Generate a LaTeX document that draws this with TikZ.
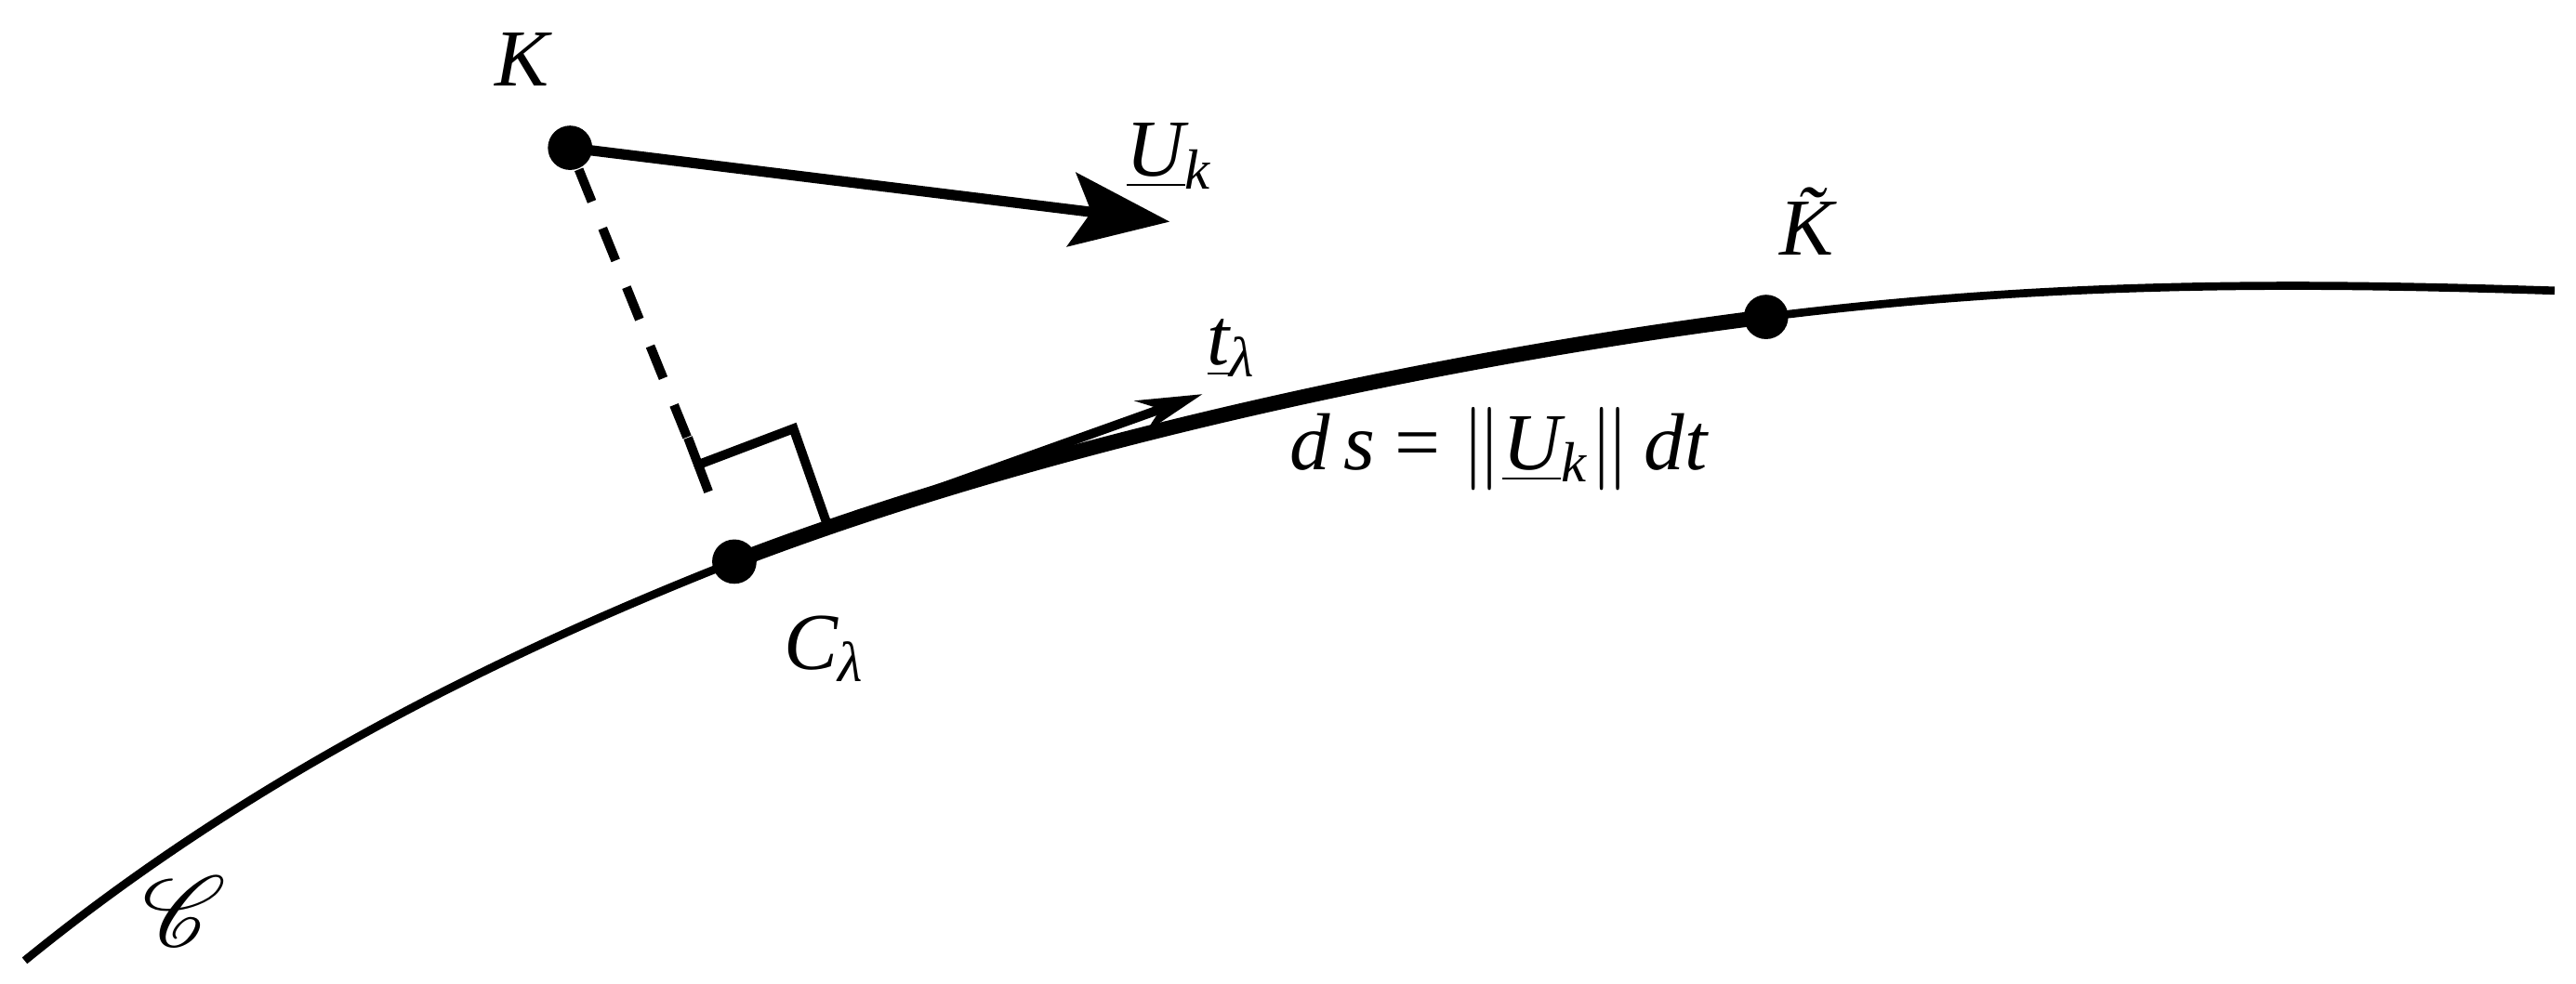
\documentclass[tikz,border=0pt]{standalone}
\usepackage{fontspec}
\usepackage{mathrsfs}
\setmainfont{Liberation Serif}
\usetikzlibrary{arrows.meta,calc}
\begin{document}
\begin{tikzpicture}[x=0.01cm,y=-0.01cm,
  lbl/.style={font=\fontsize{14}{16}\selectfont\itshape, inner sep=0pt},
  dot/.style={circle, fill=black, minimum size=0.27cm, inner sep=0pt}]
\useasboundingbox (0,0) rectangle (1568,599);
\node[dot] (K) at (347,90) {};
\node[dot] (C) at (447,342) {};
\node[dot] (Kt) at (1075,193) {};
\coordinate (S) at (15,585);
\coordinate (E) at (1555,177);
\coordinate (U) at (712,135);
\coordinate (T) at (732,240);
\coordinate (P1) at (425,283);
\coordinate (P2) at (483,261);
\coordinate (P3) at (503,318);
% curve
\draw[line width=1.4pt] (S) .. controls (150,475) and (300,400) .. (C.center)
  .. controls (650,264) and (900,215) .. (Kt.center)
  .. controls (1250,171) and (1400,172) .. (E);
\draw[line width=2.6pt] (C.center) .. controls (650,264) and (900,215) .. (Kt.center);
% arrows
\draw[line width=1.8pt, -{Stealth[length=0.6cm,width=0.45cm,inset=0.12cm]}] (K.center) -- (U);
\draw[line width=1.6pt, -{Stealth[length=0.4cm,width=0.2cm]}] (C.center) -- (T);
\draw[line width=1.6pt, dash pattern=on 6pt off 5pt] (K) -- (P1);
\draw[line width=1.6pt] (P1) -- (P2) -- (P3);
\draw[line width=1.6pt] ($(P1)!5pt!90:(P2)$) -- ($(P1)!5pt!-90:(P2)$);
% labels
\node[lbl] at (318,36) {K};
\node[lbl] at (712,95) {\underline{U}\textsubscript{k}};
\node[lbl] at (750,212) {\underline{t}\textsubscript{λ}};
\node[lbl] at (502,395) {C\textsubscript{λ}};
\node[lbl] at (1100,135) {K̃};
\node[lbl] at (912,272) {d\,s \upshape= $\Big\Vert$\itshape\underline{U}\textsubscript{k}\upshape$\Big\Vert$\itshape\,dt};
\node[font=\fontsize{16}{18}\selectfont] at (112,555) {$\mathscr{C}$};
\end{tikzpicture}
\end{document}
